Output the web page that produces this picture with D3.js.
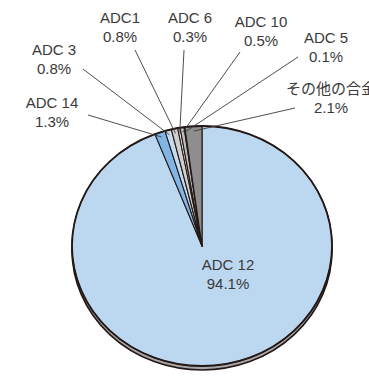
<!DOCTYPE html>
<html>
<head>
<meta charset="utf-8">
<script src="https://cdn.jsdelivr.net/npm/d3@7"></script>
<style>
  html, body { margin: 0; padding: 0; background: #fff; }
  svg { display: block; }
  text { font-family: "Liberation Sans", Arial, "Noto Sans CJK JP", sans-serif; fill: #3a3a3a; }
</style>
</head>
<body>
<svg id="chart" width="369" height="377"></svg>
<script>
// slice data, clockwise from 12 o'clock
var names = ['ADC 12', 'ADC 14', 'ADC 3', 'ADC1', 'ADC 6', 'ADC 10', 'ADC 5', 'その他の合金'];
var shares = [94.1, 1.3, 0.8, 0.8, 0.3, 0.5, 0.1, 2.1];
var colors = ['#bcd7f0', '#80b5e6', '#c4dcf2', '#cfcfcf', '#f0f0f0', '#bdbdbd', '#9a9a9a', '#8e8e8e'];

// label layout: text centre x, first baseline y, leader start x, y
var labelPos = [
    [228, 270, null, null],
    [52, 108, 88, 115],
    [54, 55, 83, 69],
    [120, 23, 135, 50],
    [190, 23, 184, 50],
    [261, 27, 240, 52],
    [326, 43, 298, 57],
    [331, 94, 295, 108]
];

var cx = 202, cy = 246, rx = 130, ry = 120, drop = 4;
var ink = '#231815';

var svg = d3.select('#chart');

var pie = d3.pie().sort(null).value(function (d) { return d; });
var arcs = pie(shares);
var arc = d3.arc().innerRadius(0).outerRadius(1);

// shadow rim under the pie
svg.append('ellipse')
    .attr('cx', cx).attr('cy', cy + drop)
    .attr('rx', rx).attr('ry', ry)
    .attr('fill', '#a8a8a8')
    .attr('stroke', ink)
    .attr('stroke-width', 1.6);

var g = svg.append('g')
    .attr('transform', 'translate(' + cx + ',' + cy + ') scale(' + rx + ',' + ry + ')');

g.selectAll('path.slice')
    .data(arcs)
    .enter()
    .append('path')
    .classed('slice', true)
    .attr('d', arc)
    .attr('fill', function (d, i) { return colors[i]; })
    .attr('stroke', ink)
    .attr('stroke-width', 1.1)
    .attr('stroke-linejoin', 'round')
    .attr('vector-effect', 'non-scaling-stroke');

svg.append('ellipse')
    .attr('cx', cx).attr('cy', cy)
    .attr('rx', rx).attr('ry', ry)
    .attr('fill', 'none')
    .attr('stroke', ink)
    .attr('stroke-width', 1.8);

// leader lines
function edgePoint(d, k) {
    var a = (d.startAngle + d.endAngle) / 2;
    return [cx + rx * k * Math.sin(a), cy - ry * k * Math.cos(a)];
}

svg.selectAll('line.leader')
    .data(arcs.filter(function (d, i) { return labelPos[i][2] !== null; }))
    .enter()
    .append('line')
    .classed('leader', true)
    .each(function (d) {
        var p = labelPos[d.index];
        var e = edgePoint(d, 0.96);
        d3.select(this)
            .attr('x1', p[2]).attr('y1', p[3])
            .attr('x2', e[0]).attr('y2', e[1]);
    })
    .attr('stroke', '#3a3a3a')
    .attr('stroke-width', 0.9);

// labels
var labels = svg.selectAll('text.label')
    .data(arcs)
    .enter()
    .append('text')
    .classed('label', true)
    .attr('text-anchor', 'middle')
    .attr('font-size', 15);

labels.append('tspan')
    .attr('x', function (d) { return labelPos[d.index][0]; })
    .attr('y', function (d) { return labelPos[d.index][1]; })
    .text(function (d) { return names[d.index]; });

labels.append('tspan')
    .attr('x', function (d) { return labelPos[d.index][0]; })
    .attr('y', function (d) { return labelPos[d.index][1] + 19; })
    .text(function (d) { return d3.format('.1f')(shares[d.index]) + '%'; });
</script>
</body>
</html>
